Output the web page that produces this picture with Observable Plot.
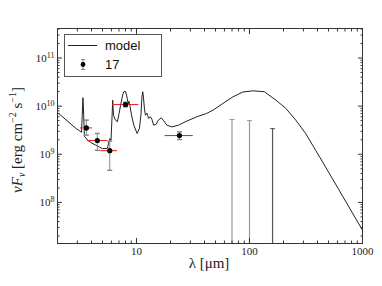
<!DOCTYPE html>
<html><head><meta charset="utf-8">
<script src="https://cdn.jsdelivr.net/npm/d3@7"></script>
<script src="https://cdn.jsdelivr.net/npm/@observablehq/plot@0.6"></script>
<style>
html,body{margin:0;padding:0;background:#fff}
#chart{position:relative;width:382px;height:286px;overflow:hidden}
</style>
</head><body><div id="chart"></div>
<script>
// ---- data ----
const modelLambda = [2.03, 2.92, 3.26, 3.31, 3.36, 3.41, 3.46, 3.70, 3.95, 4.37, 5.00, 5.53, 5.71, 5.83, 5.95, 6.06, 6.16, 6.26, 6.45, 6.77, 7.02, 7.24, 7.54, 7.74, 8.01, 8.20, 8.30, 8.42, 8.56, 8.77, 9.04, 9.47, 10.14, 10.62, 10.95, 11.17, 11.36, 11.52, 11.75, 11.99, 12.36, 12.82, 13.27, 13.68, 14.18, 14.97, 15.60, 16.57, 17.25, 18.59, 20.57, 23.50, 26.91, 34.08, 41.7, 47.6, 58.3, 71.4, 87.3, 106.9, 135.4, 171.5, 209.9, 257, 314, 385, 471, 615, 1000];
const modelFlux = [7.15e9, 3.43e9, 2.87e9, 6.49e9, 1.50e10, 6.49e9, 2.37e9, 1.96e9, 1.75e9, 1.54e9, 1.31e9, 1.33e9, 1.80e9, 2.12e9, 1.96e9, 5.11e9, 1.33e10, 6.49e9, 5.36e9, 4.71e9, 7.15e9, 1.05e10, 1.70e10, 1.99e10, 2.02e10, 1.62e10, 1.40e10, 1.10e10, 1.27e10, 1.0e10, 6.49e9, 4.02e9, 2.70e9, 3.48e9, 6.49e9, 1.54e10, 1.99e10, 1.54e10, 9.08e9, 6.49e9, 7.15e9, 5.54e9, 5.99e9, 5.36e9, 4.02e9, 4.22e9, 5.11e9, 5.71e9, 5.11e9, 4.02e9, 3.70e9, 4.02e9, 4.71e9, 5.99e9, 7.05e9, 8.25e9, 1.14e10, 1.56e10, 1.96e10, 2.08e10, 1.99e10, 1.33e10, 8.95e9, 5.11e9, 2.70e9, 1.21e9, 5.44e8, 1.87e8, 2.65e7];

const obsLambda = [3.6, 4.5, 5.8, 8.0, 24];
const obsFlux   = [3.53e9, 1.93e9, 1.19e9, 1.08e10, 2.45e9];
const obsErrLo  = [2.49e9, 1.21e9, 4.64e8, 0.97e10, 2.02e9];
const obsErrHi  = [5.11e9, 2.70e9, 1.87e9, 1.20e10, 2.92e9];
const bandLo    = [3.19, 3.69, 4.83, 6.12, 17.9];
const bandHi    = [4.08, 5.53, 6.78, 10.5, 31.8];

const ulLambda = [70, 100, 160];
const ulFlux   = [5.3e9, 5.0e9, 3.4e9];

const xMajorTicks = [10, 100, 1000];
const xMinorTicks = [2,3,4,5,6,7,8,9,20,30,40,50,60,70,80,90,200,300,400,500,600,700,800,900];
const yMajorTicks = [1e8, 1e9, 1e10, 1e11];
const yMinorTicks = [2e7,3e7,4e7,5e7,6e7,7e7,8e7,9e7,2e8,3e8,4e8,5e8,6e8,7e8,8e8,9e8,2e9,3e9,4e9,5e9,6e9,7e9,8e9,9e9,2e10,3e10,4e10,5e10,6e10,7e10,8e10,9e10,2e11,3e11,4e11];

const legendLabels = ["model", "17"];
const xLabel = "λ [μm]";

// ---- layout ----
const W = 382, H = 286;
const mL = 57, mR = 20, mT = 28, mB = 43;
const xDomain = [2, 1000];
const yDomain = [1.4e7, 4.1e11];
const serif = "'Liberation Serif', 'DejaVu Serif', serif";
const sans = "'Liberation Sans', Arial, sans-serif";

const model = modelLambda.map((l, i) => ({l, f: modelFlux[i]}));
const obs = obsLambda.map((l, i) => ({l, f: obsFlux[i], lo: obsErrLo[i], hi: obsErrHi[i], bl: bandLo[i], bh: bandHi[i]}));
const ul = ulLambda.map((l, i) => ({l, f: ulFlux[i], i}));

const cap = {draw(ctx) { ctx.moveTo(-2.5, 0); ctx.lineTo(2.5, 0); }};
const ulColor = d => d.i < 2 ? "#999" : "#555";
const blank = () => "";
const axisColor = "#333";

const plot = Plot.plot({
  width: W, height: H,
  marginLeft: mL, marginRight: mR, marginTop: mT, marginBottom: mB,
  style: {fontFamily: serif, fontSize: "11px", color: "#222", background: "#fff"},
  x: {type: "log", domain: xDomain, label: null},
  y: {type: "log", domain: yDomain, label: null},
  marks: [
    // upper limits
    Plot.ruleX(ul, {x: "l", y1: yDomain[0], y2: "f", stroke: ulColor, strokeWidth: 1.2}),
    Plot.dot(ul, {x: "l", y: "f", symbol: cap, stroke: ulColor, fill: "none", strokeWidth: 1}),
    // model
    Plot.line(model, {x: "l", y: "f", stroke: "#222", strokeWidth: 1}),
    // filter widths
    Plot.ruleY(obs, {y: "f", x1: "bl", x2: "bh", stroke: "#e8262b", strokeWidth: 1.1}),
    // error bars
    Plot.ruleX(obs, {x: "l", y1: "lo", y2: "hi", stroke: "#888", strokeWidth: 1}),
    Plot.dot(obs, {x: "l", y: "lo", symbol: cap, stroke: "#888", fill: "none"}),
    Plot.dot(obs, {x: "l", y: "hi", symbol: cap, stroke: "#888", fill: "none"}),
    Plot.dot(obs, {x: "l", y: "f", r: 2.6, fill: "#000", stroke: "none"}),
    // frame + inward ticks
    Plot.frame({stroke: axisColor, strokeWidth: 1}),
    Plot.axisX(xMajorTicks, {anchor: "bottom", tickSize: -5, tickFormat: blank, label: null, stroke: axisColor}),
    Plot.axisX(xMinorTicks, {anchor: "bottom", tickSize: -2.5, tickFormat: blank, label: null, stroke: axisColor}),
    Plot.axisX(xMajorTicks, {anchor: "top", tickSize: -5, tickFormat: blank, label: null, stroke: axisColor}),
    Plot.axisX(xMinorTicks, {anchor: "top", tickSize: -2.5, tickFormat: blank, label: null, stroke: axisColor}),
    Plot.axisY(yMajorTicks, {anchor: "left", tickSize: -5, tickFormat: blank, label: null, stroke: axisColor}),
    Plot.axisY(yMinorTicks, {anchor: "left", tickSize: -2.5, tickFormat: blank, label: null, stroke: axisColor}),
    Plot.axisY(yMajorTicks, {anchor: "right", tickSize: -5, tickFormat: blank, label: null, stroke: axisColor}),
    Plot.axisY(yMinorTicks, {anchor: "right", tickSize: -2.5, tickFormat: blank, label: null, stroke: axisColor}),
    // tick labels
    Plot.axisX(xMajorTicks, {anchor: "bottom", tickSize: 0, tickPadding: 4, tickFormat: d => String(d), label: null, fill: "#222"}),
    Plot.axisY(yMajorTicks, {anchor: "left", tickSize: 0, tickPadding: 3, tickFormat: d => "10^" + Math.round(Math.log10(d)), label: null, fill: "#222"})
  ]
});

document.getElementById("chart").appendChild(plot);

// superscript exponents in y tick labels
const svg = d3.select(plot);
svg.selectAll("text").each(function() {
  const t = this.textContent;
  const m = /^10\^(\d+)$/.exec(t);
  if (!m) return;
  const el = d3.select(this);
  el.text("");
  el.append("tspan").text("10");
  el.append("tspan").attr("dy", "-0.5em").attr("font-size", "8px").text(m[1]);
});

// axis labels
svg.append("text")
  .attr("x", 209).attr("y", 268)
  .attr("text-anchor", "middle")
  .attr("font-family", serif).attr("font-size", "15px").attr("fill", "#222")
  .text(xLabel);

const yl = svg.append("text")
  .attr("transform", "translate(22,140) rotate(-90)")
  .attr("text-anchor", "middle")
  .attr("font-family", serif).attr("font-size", "15px").attr("fill", "#222");
yl.append("tspan").attr("font-style", "italic").text("νF");
yl.append("tspan").attr("font-style", "italic").attr("font-size", "10px").attr("dy", "3").text("ν");
yl.append("tspan").attr("dy", "-3").text(" [erg cm");
yl.append("tspan").attr("font-size", "10px").attr("dy", "-6").text("−2");
yl.append("tspan").attr("dy", "6").text(" s");
yl.append("tspan").attr("font-size", "10px").attr("dy", "-6").text("−1");
yl.append("tspan").attr("dy", "6").text("]");

// legend
const lg = svg.append("g").attr("text-anchor", "start");
lg.append("rect").attr("x", 64.5).attr("y", 34.5).attr("width", 97).attr("height", 42)
  .attr("fill", "#fff").attr("stroke", "#555").attr("stroke-width", 1);
lg.append("line").attr("x1", 68).attr("x2", 97).attr("y1", 45.5).attr("y2", 45.5)
  .attr("stroke", "#222").attr("stroke-width", 1);
lg.append("line").attr("x1", 83).attr("x2", 83).attr("y1", 59.5).attr("y2", 69.5).attr("stroke", "#888");
lg.append("line").attr("x1", 81).attr("x2", 85).attr("y1", 59.5).attr("y2", 59.5).attr("stroke", "#888");
lg.append("line").attr("x1", 81).attr("x2", 85).attr("y1", 69.5).attr("y2", 69.5).attr("stroke", "#888");
lg.append("circle").attr("cx", 83).attr("cy", 64.5).attr("r", 2.4).attr("fill", "#000");
lg.append("text").attr("x", 105).attr("y", 50).attr("text-anchor", "start").attr("font-family", sans).attr("font-size", "13px").attr("fill", "#111").text(legendLabels[0]);
lg.append("text").attr("x", 105).attr("y", 69).attr("text-anchor", "start").attr("font-family", sans).attr("font-size", "13px").attr("fill", "#111").text(legendLabels[1]);
</script>
</body></html>
